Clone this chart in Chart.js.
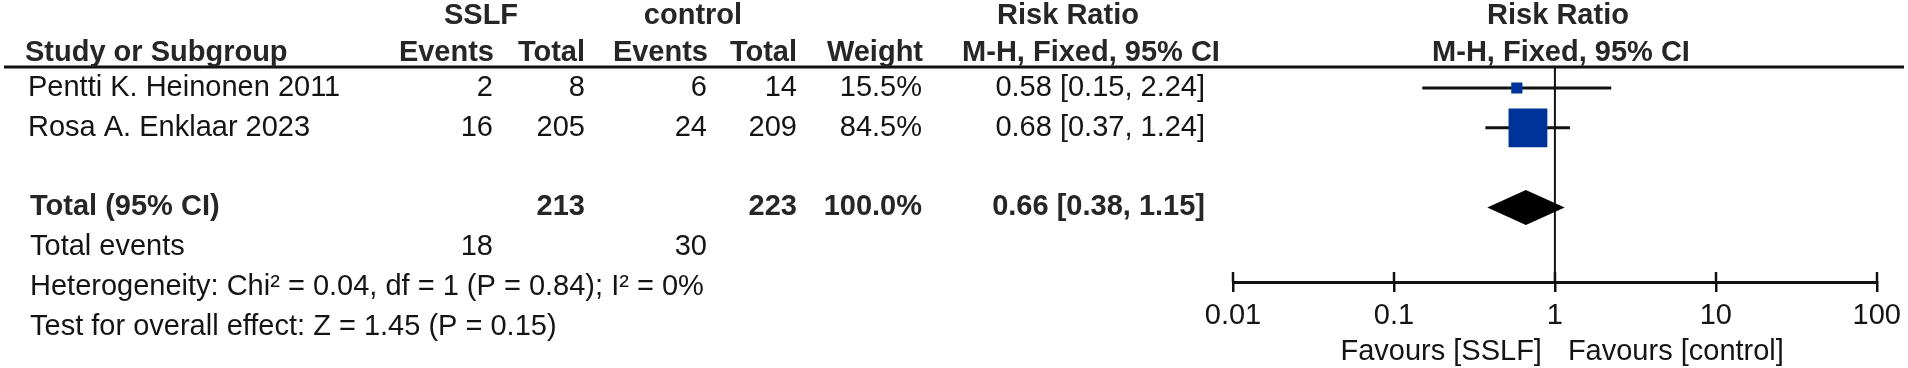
<!DOCTYPE html>
<html><head><meta charset="utf-8">
<script src="https://cdn.jsdelivr.net/npm/chart.js@4.4.1/dist/chart.umd.min.js"></script>
<style>html,body{margin:0;padding:0;background:#fff;}#wrap{position:relative;width:1908px;height:368px;}</style>
</head><body><div id="wrap"><canvas id="c" width="1908" height="368"></canvas></div>
<script>
// ---- data ----
const studies = ['Pentti K. Heinonen 2011', 'Rosa A. Enklaar 2023'];
const sslfEvents = [2, 16];
const sslfTotal = [8, 205];
const controlEvents = [6, 24];
const controlTotal = [14, 209];
const weights = [15.5, 84.5];
const riskRatio = [0.58, 0.68];
const riskLow = [0.15, 0.37];
const riskHigh = [2.24, 1.24];
const totalLabel = 'Total (95% CI)';
const totals = [213, 223];
const totalWeight = [100.0];
const pooled = [0.66];
const pooledLow = [0.38];
const pooledHigh = [1.15];
const totalEvents = [18, 30];
const heterogeneityText = 'Heterogeneity: Chi² = 0.04, df = 1 (P = 0.84); I² = 0%';
const overallText = 'Test for overall effect: Z = 1.45 (P = 0.15)';
const axisTicks = [0.01, 0.1, 1, 10, 100];
const tickLabels = ['0.01', '0.1', '1', '10', '100'];
const favours = ['Favours [SSLF]', 'Favours [control]'];
const groupHeaders = ['SSLF', 'control'];

// ---- layout ----
const W = 1908, H = 368;
const ROW0 = 88, ROWH = 39.8, AXIS_Y = 282, HEAD_LINE = 67;
const FONT = '"Liberation Sans", Arial, sans-serif';
const FS = 29;
const COL = {name: 28, sEv: 493, sTot: 585, cEv: 707, cTot: 797, wt: 922, ci: 1205};
const TXT = '#141414', BTXT = '#262626', BLUE = '#003399';

const fmtCI = (e, l, h) => e.toFixed(2) + ' [' + l.toFixed(2) + ', ' + h.toFixed(2) + ']';

const forest = {
  id: 'forest',
  afterLayout(chart) {
    // map row index -> pixel: ROW0 + i * ROWH, whatever the final chart area is
    const y = chart.scales.y, a = chart.chartArea;
    y.min = (a.top - ROW0) / ROWH;
    y.max = (a.bottom - ROW0) / ROWH;
    y.configure();
  },
  beforeDatasetsDraw(chart) {
    const ctx = chart.ctx, xs = chart.scales.x;
    ctx.save();
    ctx.strokeStyle = '#111';
    ctx.lineWidth = 3;
    ctx.beginPath(); ctx.moveTo(4, HEAD_LINE); ctx.lineTo(1904, HEAD_LINE); ctx.stroke();
    const x1 = xs.getPixelForValue(1);
    ctx.lineWidth = 2;
    ctx.beginPath(); ctx.moveTo(x1, HEAD_LINE); ctx.lineTo(x1, chart.chartArea.bottom); ctx.stroke();
    ctx.restore();
  },
  afterDatasetsDraw(chart) {
    const ctx = chart.ctx, xs = chart.scales.x, ys = chart.scales.y;
    ctx.save();
    // pooled diamond
    const ry = ys.getPixelForValue(3);
    ctx.fillStyle = '#000';
    ctx.beginPath();
    ctx.moveTo(xs.getPixelForValue(pooledLow[0]), ry);
    ctx.lineTo(xs.getPixelForValue(pooled[0]), ry - 17.5);
    ctx.lineTo(xs.getPixelForValue(pooledHigh[0]), ry);
    ctx.lineTo(xs.getPixelForValue(pooled[0]), ry + 17.5);
    ctx.closePath(); ctx.fill();
    // upper halves of axis ticks
    ctx.strokeStyle = '#111'; ctx.lineWidth = 2.5;
    axisTicks.forEach(v => {
      const x = Math.round(xs.getPixelForValue(v));
      ctx.beginPath(); ctx.moveTo(x, chart.chartArea.bottom - 10); ctx.lineTo(x, chart.chartArea.bottom); ctx.stroke();
    });

    const text = (s, x, y, align, bold) => {
      ctx.font = (bold ? 'bold ' : '') + FS + 'px ' + FONT;
      ctx.fillStyle = bold ? BTXT : TXT;
      ctx.textAlign = align; ctx.textBaseline = 'middle';
      ctx.fillText(s, x, y);
    };
    // headers
    const h1 = 16, h2 = 53;
    text(groupHeaders[0], 481, h1, 'center', true);
    text(groupHeaders[1], 693, h1, 'center', true);
    text('Risk Ratio', 1068, h1, 'center', true);
    text('Risk Ratio', 1558, h1, 'center', true);
    text('Study or Subgroup', 25, h2, 'left', true);
    text('Events', COL.sEv + 1, h2, 'right', true);
    text('Total', COL.sTot, h2, 'right', true);
    text('Events', COL.cEv + 1, h2, 'right', true);
    text('Total', COL.cTot, h2, 'right', true);
    text('Weight', COL.wt + 1, h2, 'right', true);
    text('M-H, Fixed, 95% CI', 1091, h2, 'center', true);
    text('M-H, Fixed, 95% CI', 1561, h2, 'center', true);
    // study rows
    studies.forEach((s, i) => {
      const y = ys.getPixelForValue(i);
      text(s, COL.name, y, 'left');
      text(String(sslfEvents[i]), COL.sEv, y, 'right');
      text(String(sslfTotal[i]), COL.sTot, y, 'right');
      text(String(controlEvents[i]), COL.cEv, y, 'right');
      text(String(controlTotal[i]), COL.cTot, y, 'right');
      text(weights[i].toFixed(1) + '%', COL.wt, y, 'right');
      text(fmtCI(riskRatio[i], riskLow[i], riskHigh[i]), COL.ci, y, 'right');
    });
    // total row
    let y = ys.getPixelForValue(3);
    text(totalLabel, COL.name + 2, y, 'left', true);
    text(String(totals[0]), COL.sTot, y, 'right', true);
    text(String(totals[1]), COL.cTot, y, 'right', true);
    text(totalWeight[0].toFixed(1) + '%', COL.wt, y, 'right', true);
    text(fmtCI(pooled[0], pooledLow[0], pooledHigh[0]), COL.ci, y, 'right', true);
    y = ys.getPixelForValue(4);
    text('Total events', COL.name + 2, y, 'left');
    text(String(totalEvents[0]), COL.sEv, y, 'right');
    text(String(totalEvents[1]), COL.cEv, y, 'right');
    text(heterogeneityText, COL.name + 2, ys.getPixelForValue(5), 'left');
    text(overallText, COL.name + 2, ys.getPixelForValue(6), 'left');
    // favours
    const x1 = xs.getPixelForValue(1);
    text(favours[0], x1 - 13, 352, 'right');
    text(favours[1], x1 + 13, 352, 'left');
    ctx.restore();
  }
};

new Chart(document.getElementById('c').getContext('2d'), {
  type: 'scatter',
  data: {
    datasets: [
      ...studies.map((s, i) => ({
        type: 'line', label: s + ' CI',
        data: [{x: riskLow[i], y: i}, {x: riskHigh[i], y: i}],
        borderColor: '#111', borderWidth: 3, pointRadius: 0, order: 2
      })),
      {
        type: 'scatter', label: 'Risk ratio',
        data: riskRatio.map((v, i) => ({x: v, y: i})),
        pointStyle: 'rect',
        pointRadius: weights.map(w => (5 + 0.4 * w) / Math.SQRT2),
        pointHoverRadius: weights.map(w => (5 + 0.4 * w) / Math.SQRT2),
        backgroundColor: BLUE, borderWidth: 0, order: 1
      }
    ]
  },
  options: {
    responsive: false, animation: false, devicePixelRatio: 1,
    layout: {autoPadding: false, padding: {left: 1233, right: 31, top: 0, bottom: 0}},
    plugins: {legend: {display: false}, tooltip: {enabled: false}},
    scales: {
      x: {
        type: 'logarithmic', min: 0.01, max: 100, position: 'bottom',
        afterBuildTicks: s => { s.ticks = axisTicks.map(v => ({value: v})); },
        afterFit: s => { s.height = H - AXIS_Y; },
        grid: {drawOnChartArea: false, drawTicks: true, tickLength: 10, lineWidth: 2.5, color: '#111'},
        border: {display: true, width: 3, color: '#111'},
        ticks: {
          callback: (v, i) => tickLabels[i],
          font: {family: FONT, size: FS}, color: TXT, padding: 7,
          maxRotation: 0, minRotation: 0, autoSkip: false
        }
      },
      y: {type: 'linear', display: false, reverse: true, min: -ROW0 / ROWH, max: (AXIS_Y - ROW0) / ROWH}
    }
  },
  plugins: [forest]
});
</script>
</body></html>
